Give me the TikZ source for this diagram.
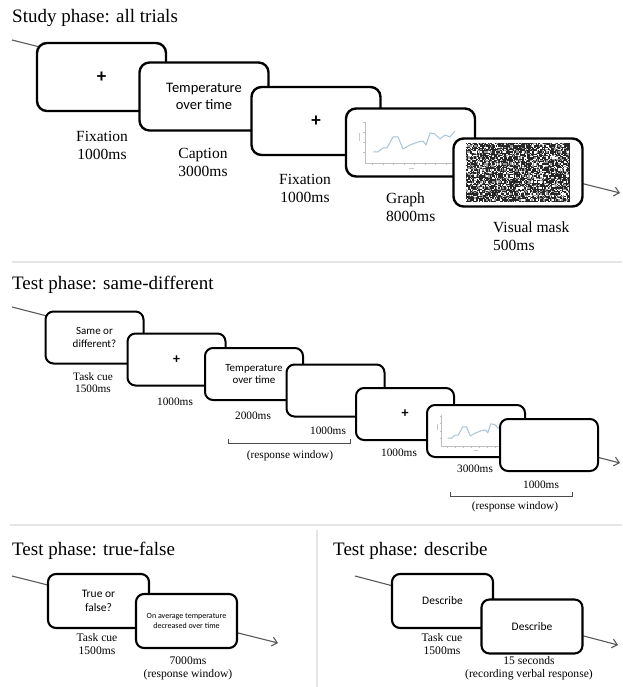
\documentclass[tikz,border=0pt]{standalone}
\usepackage{fontspec}
\setmainfont{Liberation Serif}
\newfontfamily\boxfont{Carlito}
\usetikzlibrary{arrows.meta}
\newcommand\graphthumb[2]{%
  \begin{scope}[shift={#1}, scale=#2]
    \draw[black!25, line width=0.4pt] (-45.5,-20.5) -- (-45.5,20.5) -- (45,20.5);
    \foreach \t in {-38,-27.5,...,42} \draw[black!25, line width=0.4pt] (\t,20.5) -- (\t,22.5);
    \foreach \t in {-20,-10,0,10} \draw[black!25, line width=0.4pt] (-45.5,\t) -- (-47.5,\t);
    \draw[black!20, line width=0.8pt] (-51,-9) -- (-51,-1);
    \draw[black!20, line width=0.8pt] (-2,26) -- (3,26);
    \draw[graphline] (-37.5,9.5) -- (-32.5,9.5) -- (-27.5,5.5) -- (-23.5,5.5) -- (-17.5,-5.5) -- (-12.5,-5.5) -- (-7.5,6.5) -- (-0.5,2.5) -- (7.5,-0.5) -- (12.5,-1.5) -- (15.5,2.5) -- (19.5,-9.5) -- (24.5,-8.5) -- (29.5,-3.5) -- (34.5,-7.5) -- (39.5,-5.5) -- (44.5,-11.5);
  \end{scope}}
\begin{document}
\begin{tikzpicture}[x=1pt,y=-1pt,
  sbox/.style={draw=black, line width=2.4pt, rounded corners=10pt, fill=white, minimum width=129pt, minimum height=68pt, inner sep=0pt, align=center, font=\boxfont\fontsize{14.5}{17.5}\selectfont},
  mbox/.style={draw=black, line width=2pt, rounded corners=8pt, fill=white, minimum width=98pt, minimum height=52pt, inner sep=0pt, align=center, font=\boxfont\fontsize{11}{12.5}\selectfont},
  bbox/.style={draw=black, line width=2.1pt, rounded corners=8pt, fill=white, minimum width=101pt, minimum height=54pt, inner sep=0pt, align=center, font=\boxfont\fontsize{11.5}{13.5}\selectfont},
  slab/.style={font=\fontsize{15.5}{18}\selectfont, align=center, inner sep=0pt},
  sleft/.style={font=\fontsize{15.5}{18}\selectfont, align=left, inner sep=0pt, anchor=west},
  mlab/.style={font=\fontsize{11.3}{12}\selectfont, align=center, inner sep=0pt},
  blab/.style={font=\fontsize{11.6}{13}\selectfont, align=center, inner sep=0pt},
  ttl/.style={font=\fontsize{19}{22}\selectfont, anchor=base west, inner sep=0pt},
  tline/.style={draw=black!65, line width=1.1pt},
  tarrow/.style={tline, -{Straight Barb[length=5pt,width=9pt]}},
  sepline/.style={draw=black!10, line width=1.5pt},
  brk/.style={draw=black!70, line width=0.8pt},
  graphline/.style={draw={rgb,255:red,168;green,196;blue,216}, line width=1pt, line join=round},
  plusfont/.style={font=\boxfont\bfseries\fontsize{19}{19}\selectfont}
]
\useasboundingbox (0,0) rectangle (622,687);

% separators
\draw[sepline] (12,262) -- (622,262);
\draw[sepline] (10,525) -- (622,525);
\draw[sepline] (317,530) -- (317,687);

% ---------------- Study phase ----------------
\node[ttl] (t1) at (12,23) {Study phase: all trials};
\coordinate (s1) at (12,40);
\coordinate (e1) at (620,193);
\draw[tarrow] (s1) -- (e1);

\node[sbox, plusfont] (b1) at (101.5,77) {+};
\node[sbox] (b2) at (204,96.5) {Temperature\\over time};
\node[sbox, plusfont] (b3) at (316,121) {+};
\node[sbox] (b4) at (410.5,142.5) {};
\graphthumb{(410.5,142.5)}{1}
\node[sbox] (b5) at (518,172.5) {};
\fill[black!85] (466,143) rectangle (569.6,201.8);
\pgfmathsetseed{7}
\foreach \i in {0,...,85}{\foreach \j in {0,...,48}{%
  \pgfmathtruncatemacro\r{100*rnd}%
  \ifnum\r<22 \fill[white] ({466+1.2*\i},{143+1.2*\j}) rectangle ++(1.2,1.2);\else
  \ifnum\r<42 \fill[black!40] ({466+1.2*\i},{143+1.2*\j}) rectangle ++(1.2,1.2);\fi\fi
}}

\node[slab] (l1) at (102,145) {Fixation\\1000ms};
\node[slab] (l2) at (203,162) {Caption\\3000ms};
\node[slab] (l3) at (305,188) {Fixation\\1000ms};
\node[sleft] (l4) at (386,207.5) {Graph\\8000ms};
\node[sleft] (l5) at (493,236) {Visual mask\\500ms};

% ---------------- Same-different ----------------
\node[ttl] (t2) at (12,289) {Test phase: same-different};
\coordinate (s2) at (12,307);
\coordinate (e2) at (620,463);
\draw[tarrow] (s2) -- (e2);

\node[mbox] (m1) at (94.5,337.5) {Same or\\different?};
\node[mbox, font=\boxfont\bfseries\fontsize{14}{14}\selectfont] (m2) at (176.5,359.5) {+};
\node[mbox] (m3) at (254,374) {Temperature\\over time};
\node[mbox] (m4) at (335.5,390.5) {};
\node[mbox, font=\boxfont\bfseries\fontsize{14}{14}\selectfont] (m5) at (405,414) {+};
\node[mbox] (m6) at (476,431) {};
\graphthumb{(476,431)}{0.76}
\node[mbox] (m7) at (549,445) {};

\node[mlab] (k1) at (93,382.5) {Task cue\\1500ms};
\node[mlab] (k2) at (175,402) {1000ms};
\node[mlab] (k3) at (253,415.5) {2000ms};
\node[mlab] (k4) at (328,431) {1000ms};
\draw[brk] (228,439) -- (228,443) -- (350,443) -- (350,439);
\node[mlab] (k5) at (290,456) {(response window)};
\node[mlab] (k6) at (399,453) {1000ms};
\node[mlab] (k7) at (475,469) {3000ms};
\node[mlab] (k8) at (541,485) {1000ms};
\draw[brk] (450,492) -- (450,496) -- (572,496) -- (572,492);
\node[mlab] (k9) at (515,507) {(response window)};

% ---------------- True-false ----------------
\node[ttl] (t3) at (12,555) {Test phase: true-false};
\coordinate (s3) at (12,576);
\coordinate (e3) at (278,643);
\draw[tarrow] (s3) -- (e3);
\node[bbox] (f1) at (98.5,601) {True or\\false?};
\node[bbox, font=\boxfont\fontsize{8}{10}\selectfont] (f2) at (186.5,621) {On average temperature\\decreased over time};
\node[blab] (g1) at (97,644.5) {Task cue\\1500ms};
\node[blab] (g2) at (188,668.5) {7000ms\\(response window)};

% ---------------- Describe ----------------
\node[ttl] (t4) at (333,555) {Test phase: describe};
\coordinate (s4) at (355,576);
\coordinate (e4) at (618,645);
\draw[tarrow] (s4) -- (e4);
\node[bbox] (d1) at (442.5,601) {Describe};
\node[bbox] (d2) at (532,626.5) {Describe};
\node[blab] (h1) at (442,644.5) {Task cue\\1500ms};
\node[blab] (h2) at (529,668.5) {15 seconds\\(recording verbal response)};
\end{tikzpicture}
\end{document}
